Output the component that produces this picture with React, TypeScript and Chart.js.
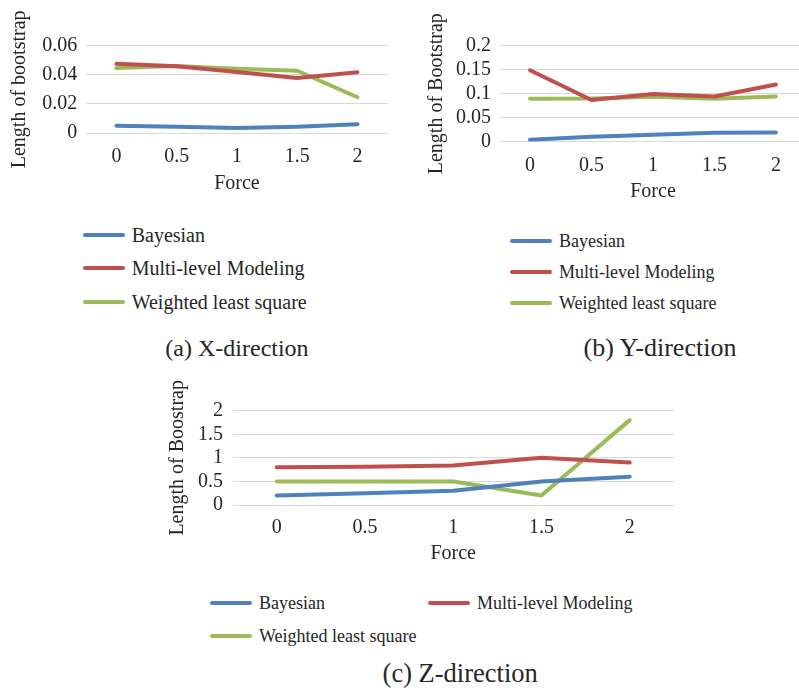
import React, { useEffect, useRef } from 'react';
import { Chart, registerables } from 'chart.js';

Chart.register(...registerables);

// ---------- data ----------
const forceLabels = ['0', '0.5', '1', '1.5', '2'];
const seriesNames = ['Bayesian', 'Multi-level Modeling', 'Weighted least square'];
const seriesColors = ['#4F81BD', '#C0504D', '#9BBB59'];

// (a) X-direction
const xBayesian = [0.005, 0.0043, 0.0035, 0.0043, 0.006];
const xMultiLevel = [0.0476, 0.0458, 0.042, 0.0378, 0.0418];
const xWeighted = [0.0446, 0.046, 0.0442, 0.0428, 0.0246];
const xTickLabels = ['0', '0.02', '0.04', '0.06'];

// (b) Y-direction
const yBayesian = [0.004, 0.0102, 0.0146, 0.0188, 0.0194];
const yMultiLevel = [0.149, 0.087, 0.0993, 0.094, 0.119];
const yWeighted = [0.0897, 0.09, 0.0935, 0.0897, 0.0944];
const yTickLabels = ['0', '0.05', '0.1', '0.15', '0.2'];

// (c) Z-direction
const zBayesian = [0.2, 0.25, 0.3, 0.5, 0.6];
const zMultiLevel = [0.8, 0.81, 0.84, 1.0, 0.9];
const zWeighted = [0.5, 0.5, 0.5, 0.2, 1.8];
const zTickLabels = ['0', '0.5', '1', '1.5', '2'];

const FONT = "'Liberation Serif', 'Times New Roman', Times, serif";
const TEXT = '#262626';
const GRID = '#d9d9d9';

type Geo = {
  left: number; top: number; w: number; h: number;
  pad: { left: number; top: number; right: number; bottom: number };
  yWidth: number; xHeight: number;
  yTitlePad: number; yTickPad: number; xTickPad: number;
  font: number;
};

type PanelProps = {
  series: number[][];
  yMax: number;
  yStep: number;
  yTicks: string[];
  yTitle: string;
  geo: Geo;
};

function Panel({ series, yMax, yStep, yTicks, yTitle, geo }: PanelProps) {
  const ref = useRef<HTMLCanvasElement | null>(null);
  useEffect(() => {
    if (!ref.current) return;
    const chart = new Chart(ref.current, {
      type: 'line',
      data: {
        labels: forceLabels,
        datasets: series.map((d, i) => ({
          label: seriesNames[i],
          data: d,
          borderColor: seriesColors[i],
          backgroundColor: seriesColors[i],
          borderWidth: 4,
          pointRadius: 0,
          borderCapStyle: 'round' as const,
          borderJoinStyle: 'round' as const,
          tension: 0,
          fill: false,
        })),
      },
      options: {
        responsive: false,
        maintainAspectRatio: false,
        animation: false,
        layout: { padding: geo.pad, autoPadding: false },
        plugins: { legend: { display: false }, tooltip: { enabled: false } },
        scales: {
          x: {
            type: 'category',
            offset: true,
            grid: { display: false, drawTicks: false },
            border: { display: false },
            ticks: {
              color: TEXT,
              padding: geo.xTickPad,
              maxRotation: 0,
              autoSkip: false,
              font: { family: FONT, size: geo.font },
            },
            title: {
              display: true,
              text: 'Force',
              color: TEXT,
              padding: { top: 0, bottom: 0 },
              font: { family: FONT, size: geo.font },
            },
            afterFit: (s: any) => { s.height = geo.xHeight; },
          },
          y: {
            type: 'linear',
            min: 0,
            max: yMax,
            grid: { color: GRID, lineWidth: 1, drawTicks: false },
            border: { display: false },
            ticks: {
              stepSize: yStep,
              autoSkip: false,
              color: TEXT,
              padding: geo.yTickPad,
              font: { family: FONT, size: geo.font },
              callback: (_v: any, idx: number) => yTicks[idx],
            },
            title: {
              display: true,
              text: yTitle,
              color: TEXT,
              padding: { top: geo.yTitlePad, bottom: 0 },
              font: { family: FONT, size: geo.font },
            },
            afterFit: (s: any) => { s.width = geo.yWidth; },
          },
        },
      },
    });
    return () => chart.destroy();
  }, []);
  return (
    <canvas
      ref={ref}
      width={geo.w}
      height={geo.h}
      style={{ position: 'absolute', left: geo.left, top: geo.top, width: geo.w, height: geo.h }}
    />
  );
}

type LegendItem = { x: number; y: number; text: string; color: string };

function Legend({ items, font }: { items: LegendItem[]; font: number }) {
  return (
    <>
      {items.map((it, i) => (
        <React.Fragment key={i}>
          <div
            style={{
              position: 'absolute', left: it.x, top: it.y - 2, width: 42, height: 4,
              borderRadius: 2, background: it.color,
            }}
          />
          <div
            style={{
              position: 'absolute', left: it.x + 49, top: it.y - 15, height: 30,
              lineHeight: '30px', fontFamily: FONT, fontSize: font, color: TEXT,
              whiteSpace: 'nowrap',
            }}
          >
            {it.text}
          </div>
        </React.Fragment>
      ))}
    </>
  );
}

function Caption({ cx, cy, font, text }: { cx: number; cy: number; font: number; text: string }) {
  return (
    <div
      style={{
        position: 'absolute', left: cx - 200, width: 400, top: cy - 20, height: 40,
        lineHeight: '40px', textAlign: 'center', fontFamily: FONT, fontSize: font,
        color: TEXT, whiteSpace: 'nowrap',
      }}
    >
      {text}
    </div>
  );
}

const geoA: Geo = {
  left: 0, top: 0, w: 395, h: 200,
  pad: { left: 0, top: 45.7, right: 7.4, bottom: 4 },
  yWidth: 86.3, xHeight: 63, yTitlePad: 8, yTickPad: 9, xTickPad: 12, font: 20,
};
const geoB: Geo = {
  left: 420, top: 0, w: 392, h: 210,
  pad: { left: 0, top: 45.7, right: 5.3, bottom: 6.7 },
  yWidth: 79.3, xHeight: 61.6, yTitlePad: 4.7, yTickPad: 8.3, xTickPad: 11.6, font: 20,
};
const geoC: Geo = {
  left: 160, top: 370, w: 530, h: 200,
  pad: { left: 0, top: 40.7, right: 16.2, bottom: 4.3 },
  yWidth: 72.6, xHeight: 60.7, yTitlePad: 6, yTickPad: 9.6, xTickPad: 11, font: 20,
};

export default function App() {
  return (
    <div
      style={{
        position: 'absolute', left: 0, top: 0, width: 799, height: 693,
        overflow: 'hidden', background: '#ffffff',
      }}
    >
      <Panel series={[xBayesian, xMultiLevel, xWeighted]} yMax={0.06} yStep={0.02}
        yTicks={xTickLabels} yTitle="Length of bootstrap" geo={geoA} />
      <Panel series={[yBayesian, yMultiLevel, yWeighted]} yMax={0.2} yStep={0.05}
        yTicks={yTickLabels} yTitle="Length of Bootstrap" geo={geoB} />
      <Panel series={[zBayesian, zMultiLevel, zWeighted]} yMax={2} yStep={0.5}
        yTicks={zTickLabels} yTitle="Length of Boostrap" geo={geoC} />

      <Legend font={20} items={[
        { x: 82.7, y: 235, text: seriesNames[0], color: seriesColors[0] },
        { x: 82.7, y: 268, text: seriesNames[1], color: seriesColors[1] },
        { x: 82.7, y: 301.7, text: seriesNames[2], color: seriesColors[2] },
      ]} />
      <Legend font={18} items={[
        { x: 510, y: 240.7, text: seriesNames[0], color: seriesColors[0] },
        { x: 510, y: 271.7, text: seriesNames[1], color: seriesColors[1] },
        { x: 510, y: 302.7, text: seriesNames[2], color: seriesColors[2] },
      ]} />
      <Legend font={18} items={[
        { x: 210, y: 603.3, text: seriesNames[0], color: seriesColors[0] },
        { x: 428, y: 603.3, text: seriesNames[1], color: seriesColors[1] },
        { x: 210, y: 635.7, text: seriesNames[2], color: seriesColors[2] },
      ]} />

      <Caption cx={237} cy={348} font={24} text="(a) X-direction" />
      <Caption cx={660} cy={348} font={26} text="(b) Y-direction" />
      <Caption cx={460.2} cy={673} font={26.5} text="(c) Z-direction" />
    </div>
  );
}
